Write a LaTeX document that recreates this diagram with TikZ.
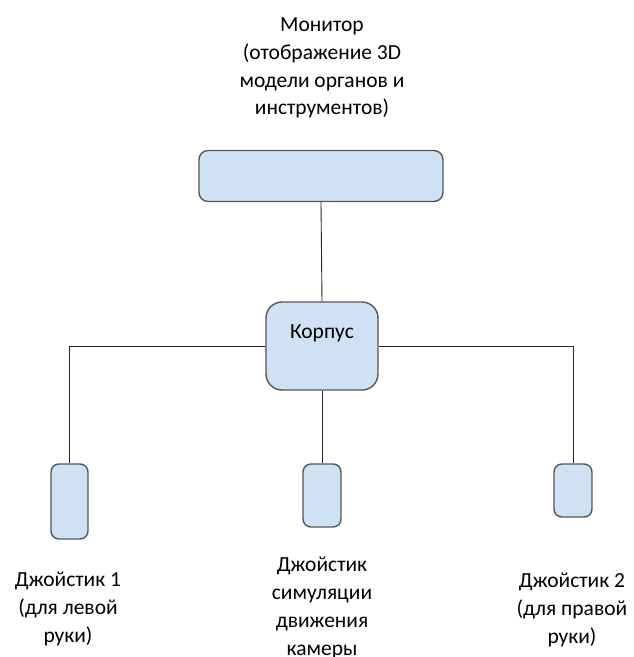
\documentclass[tikz,border=0pt]{standalone}
\usepackage{fontspec}
\setmainfont{Carlito}
\definecolor{boxfill}{HTML}{CFE2F3}
\definecolor{boxline}{HTML}{555555}
\tikzset{
  part/.style={draw=boxline, line width=1.4pt, fill=boxfill, inner sep=0pt},
  link/.style={draw=black!85, line width=0.9pt},
  caption/.style={align=center, inner sep=0pt, anchor=north,
    font=\fontsize{21.5}{28}\selectfont}
}
\begin{document}
\begin{tikzpicture}[x=1pt, y=-1pt]
\useasboundingbox (0,0) rectangle (633,657);

% Monitor
\node[caption] (monitorText) at (322,17) {Монитор\\(отображение 3D\\модели органов и\\инструментов)};
\node[part, rounded corners=9pt, minimum width=244pt, minimum height=51pt] (monitor) at (321,176) {};

% Body
\node[part, rounded corners=16pt, minimum width=112pt, minimum height=88pt] (korpus) at (322,346) {};
\node[caption, anchor=center] (korpusText) at (322,333) {Корпус};

% Joysticks
\node[part, rounded corners=8pt, minimum width=37pt, minimum height=75pt] (joyLeft) at (69.5,501.5) {};
\node[part, rounded corners=8pt, minimum width=38pt, minimum height=63pt] (joyMid) at (322,495.5) {};
\node[part, rounded corners=8pt, minimum width=38pt, minimum height=53pt] (joyRight) at (573,490.5) {};

% Connections
\draw[link] (monitor.south) -- (korpus.north);
\draw[link] (korpus.south) -- (joyMid.north);
\draw[link] (korpus.west) -| (joyLeft.north);
\draw[link] (korpus.east) -| (joyRight.north);

% Labels
\node[caption] (joyLeftText) at (68,572) {Джойстик 1\\(для левой\\руки)};
\node[caption] (joyMidText) at (322,557) {Джойстик\\симуляции\\движения\\камеры};
\node[caption] (joyRightText) at (572,573) {Джойстик 2\\(для правой\\руки)};
\end{tikzpicture}
\end{document}
